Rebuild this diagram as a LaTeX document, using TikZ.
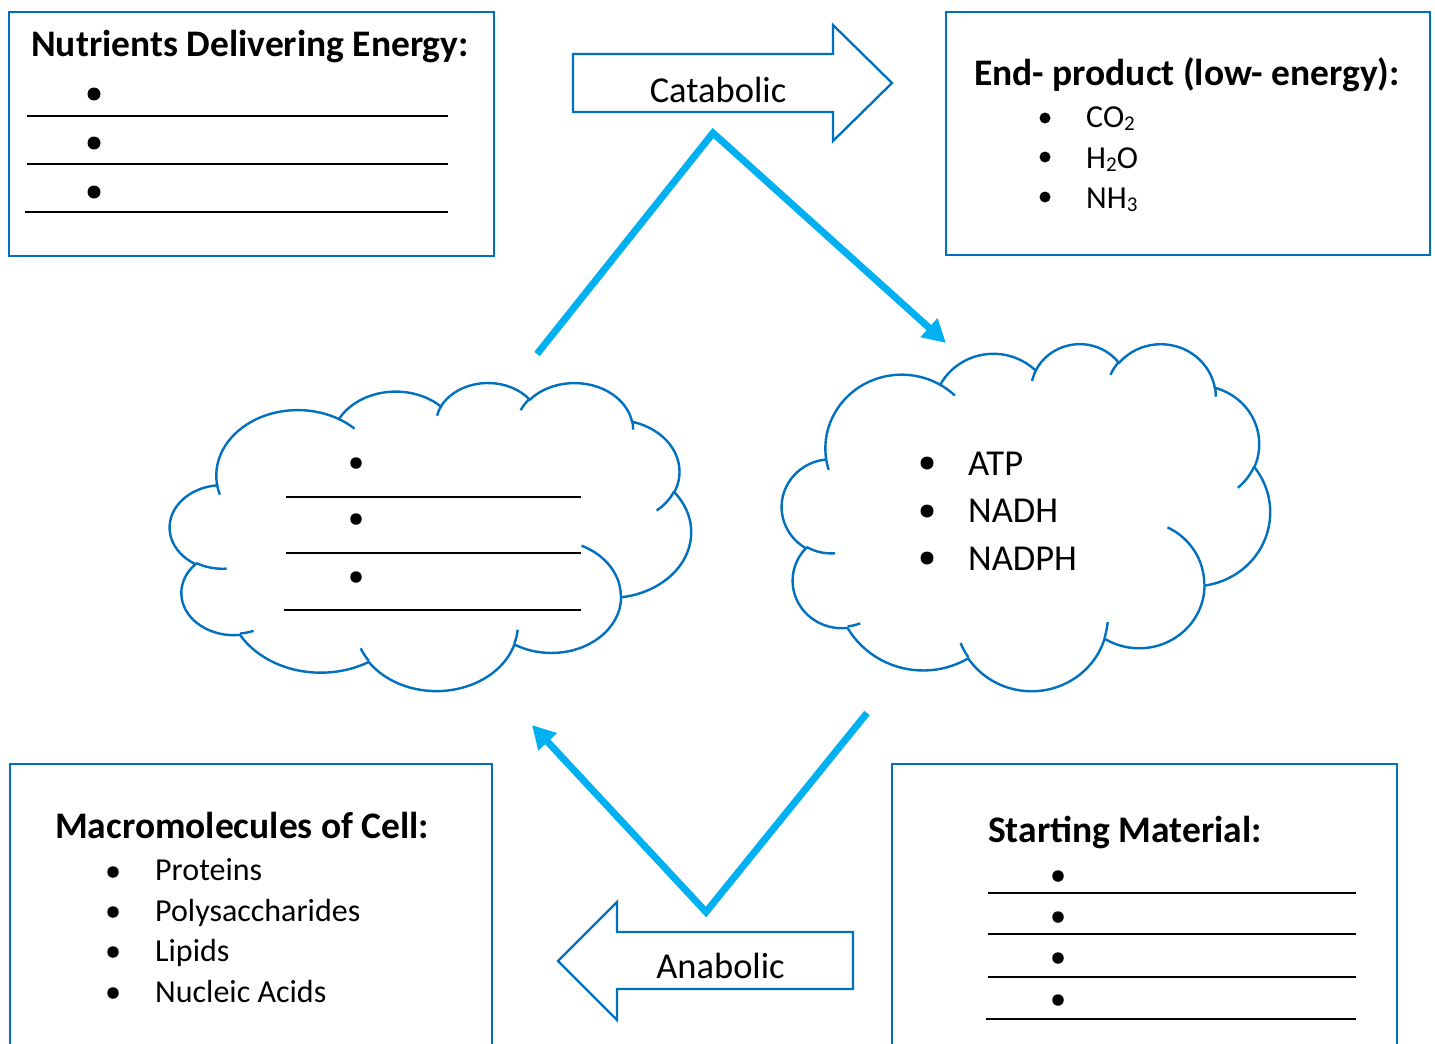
\documentclass[tikz,border=0pt]{standalone}
\usepackage{fontspec}
\setmainfont{Carlito}
\usetikzlibrary{arrows.meta}
\definecolor{boxblue}{HTML}{0070C0}
\definecolor{arrcyan}{HTML}{00B0F0}
% Office-style cloud arcs: name, wR, hR, start (visual deg), sweep (deg)
\newcommand\oaset[5]{%
  \pgfmathsetmacro\oaS{atan2((#2)*sin(#4),(#3)*cos(#4))}%
  \pgfmathsetmacro\oaE{atan2((#2)*sin((#4)+(#5)),(#3)*cos((#4)+(#5)))}%
  \pgfmathsetmacro\oaD{mod(\oaE-\oaS+720,360)}%
  \edef\oatmp{\noexpand\tikzset{#1/.style={start angle=\oaS,delta angle=\oaD,x radius=#2,y radius=#3}}}%
  \oatmp}
\oaset{oa1}{67.53}{91.90}{-190.4875}{123.7805}
\oaset{oa2}{53.33}{72.67}{-144.1024}{89.9452}
\oaset{oa3}{43.65}{59.45}{-145.8079}{99.7230}
\oaset{oa4}{48.57}{65.95}{-130.9861}{117.2417}
\oaset{oa5}{53.33}{72.73}{-78.7089}{109.0269}
\oaset{oa6}{67.75}{92.20}{-46.2673}{130.2690}
\oaset{oa7}{57.85}{78.67}{0.6250}{114.0333}
\oaset{oa8}{67.52}{92.15}{22.4516}{115.1726}
\oaset{oa9}{77.20}{105.43}{66.2426}{75.7110}
\oaset{oa10}{43.60}{59.18}{-274.9421}{146.7356}
\oaset{oa11}{43.45}{59.45}{-246.8285}{152.5189}
\oaset{oi1}{43.45}{59.45}{86.7420}{26.4295}
\oaset{oi2}{43.60}{59.18}{73.6105}{11.4475}
\oaset{oi3}{67.52}{92.15}{137.6242}{14.0811}
\oaset{oi4}{67.52}{92.15}{6.4533}{15.9984}
\oaset{oi5}{57.85}{78.67}{-70.2924}{70.9174}
\oaset{oi6}{53.33}{72.73}{30.3180}{27.7515}
\oaset{oi7}{48.57}{65.95}{-13.7443}{14.8589}
\oaset{oi8}{48.57}{65.95}{-149.1815}{18.1954}
\oaset{oi9}{43.65}{59.45}{-163.4943}{17.6864}
\oaset{oi10}{67.53}{91.90}{-66.7070}{12.3194}
\oaset{oi11}{67.53}{91.90}{157.6544}{11.8582}
\newcommand\cloudpaths{%
  \draw[cloudline] (39.00,143.70) arc[oa1] arc[oa2] arc[oa3] arc[oa4] arc[oa5]
    arc[oa6] arc[oa7] arc[oa8] arc[oa9] arc[oa10] arc[oa11] -- cycle;
  \draw[cloudline] (46.93,261.77) arc[oi1] (69.28,348.99) arc[oi2]
    (164.78,390.90) arc[oi3] (288.27,347.51) arc[oi4] (341.29,229.54) arc[oi5]
    (417.98,153.54) arc[oi6] (383.24,54.26) arc[oi7] (290.78,39.52) arc[oi8]
    (221.41,47.20) arc[oi9] (140.00,51.92) arc[oi10] (41.27,157.89) arc[oi11];}
\newcommand\subs[1]{\raisebox{-3pt}{\fontsize{21}{21}\selectfont #1}}
\begin{document}
\begin{tikzpicture}[x=1pt,y=1pt,yscale=-1,
  box/.style={draw=boxblue,line width=2.3pt,inner sep=0pt,anchor=north west},
  blockarrow/.style={draw=boxblue,line width=2.3pt,line join=miter},
  cloudline/.style={draw=boxblue,line width=2.4pt},
  flow/.style={draw=arrcyan,line width=7pt,line join=miter,-{Triangle[length=23pt,width=24pt]}},
  rule/.style={draw=black,line width=1.9pt},
  bul/.style={circle,fill=black,inner sep=0pt,minimum size=#1},
  bul/.default=12pt,
  head/.style={inner sep=0pt,font=\fontsize{37.5}{41}\selectfont\bfseries},
  item/.style={inner sep=0pt,anchor=base west,font=\fontsize{32}{36}\selectfont},
  big/.style={inner sep=0pt,font=\fontsize{36.5}{40}\selectfont}]
\useasboundingbox (0,0) rectangle (1435,1044);
\clip (0,0) rectangle (1435,1044);

% ---------- boxes ----------
\node[box,minimum width=485pt,minimum height=244pt] (nutrbox) at (8,11) {};
\node[box,minimum width=484pt,minimum height=243pt] (endbox) at (945,11) {};
\node[box,minimum width=482pt,minimum height=300pt] (macrobox) at (9,763) {};
\node[box,minimum width=505pt,minimum height=300pt] (startbox) at (891,763) {};

% Nutrients box
\node[head,anchor=base] (nutrhead) at (250,56) {Nutrients Delivering Energy:};
\node[bul=13pt] (nb1) at (94,94) {};
\node[bul=13pt] (nb2) at (94,143) {};
\node[bul=13pt] (nb3) at (94,192) {};
\draw[rule] (27,116) -- (448,116);
\draw[rule] (27,164) -- (448,164);
\draw[rule] (25,212) -- (448,212);

% End-product box
\node[head,anchor=base] (endhead) at (1187,85) {End- product (low- energy):};
\node[bul=11pt] (eb1) at (1045,118) {};
\node[bul=11pt] (eb2) at (1045,157) {};
\node[bul=11pt] (eb3) at (1045,197) {};
\node[item] (co2) at (1086,127) {CO\subs{2}};
\node[item] (h2o) at (1086,168) {H\subs{2}O};
\node[item] (nh3) at (1086,208) {NH\subs{3}};

% Macromolecules box
\node[head,anchor=base west] (macrohead) at (55,838) {Macromolecules of Cell:};
\node[bul=11.5pt] (mb1) at (113,872) {};
\node[bul=11.5pt] (mb2) at (113,912) {};
\node[bul=11.5pt] (mb3) at (113,952) {};
\node[bul=11.5pt] (mb4) at (113,993) {};
\node[item] (prot) at (155,880) {Proteins};
\node[item] (poly) at (155,921) {Polysaccharides};
\node[item] (lip) at (155,961.5) {Lipids};
\node[item] (nuc) at (155,1002) {Nucleic Acids};

% Starting material box
\node[head,anchor=base west] (starthead) at (988,842) {Starting Material:};
\node[bul=11.5pt] (sb1) at (1058,876) {};
\node[bul=11.5pt] (sb2) at (1058,917) {};
\node[bul=11.5pt] (sb3) at (1058,958) {};
\node[bul=11.5pt] (sb4) at (1058,1000) {};
\draw[rule] (988,893) -- (1356,893);
\draw[rule] (988,934) -- (1356,934);
\draw[rule] (988,977) -- (1356,977);
\draw[rule] (986,1019) -- (1356,1019);

% ---------- block arrows ----------
\draw[blockarrow] (573,54) -- (833,54) -- (833,25) -- (892,83) -- (833,141)
  -- (833,112) -- (573,112) -- cycle;
\node[big,anchor=base] (catab) at (718,102) {Catabolic};
\draw[blockarrow] (853,932) -- (617,932) -- (617,902) -- (558,961) -- (617,1020)
  -- (617,989) -- (853,989) -- cycle;
\node[big,anchor=base] (anab) at (720.5,978) {Anabolic};

% ---------- clouds ----------
\begin{scope}[shift={(170,382)},xscale=521/432,yscale=308/432]
  \cloudpaths
\end{scope}
\coordinate (leftcloud) at (430,536);
\node[bul=11.5pt] (lb1) at (356,463) {};
\node[bul=11.5pt] (lb2) at (356,519) {};
\node[bul=11.5pt] (lb3) at (356,577) {};
\draw[rule] (286,497) -- (581,497);
\draw[rule] (286,553) -- (581,553);
\draw[rule] (284,610) -- (581,610);

\begin{scope}[shift={(782,343)},xscale=488/432,yscale=347/432]
  \cloudpaths
\end{scope}
\coordinate (rightcloud) at (1026,516);
\node[bul=13pt] (rb1) at (927,463) {};
\node[bul=13pt] (rb2) at (927,511) {};
\node[bul=13pt] (rb3) at (927,558) {};
\node[big,anchor=base west] (atp) at (968,475) {ATP};
\node[big,anchor=base west] (nadh) at (968,522.5) {NADH};
\node[big,anchor=base west] (nadph) at (968,570) {NADPH};

% ---------- flow connectors ----------
\coordinate (ct1) at (537,354);
\coordinate (ct2) at (713,133);
\coordinate (ct3) at (946,343);
\draw[flow] (ct1) -- (ct2) -- (ct3);
\coordinate (cb1) at (867,713);
\coordinate (cb2) at (706,912);
\coordinate (cb3) at (532,725);
\draw[flow] (cb1) -- (cb2) -- (cb3);
\end{tikzpicture}
\end{document}
